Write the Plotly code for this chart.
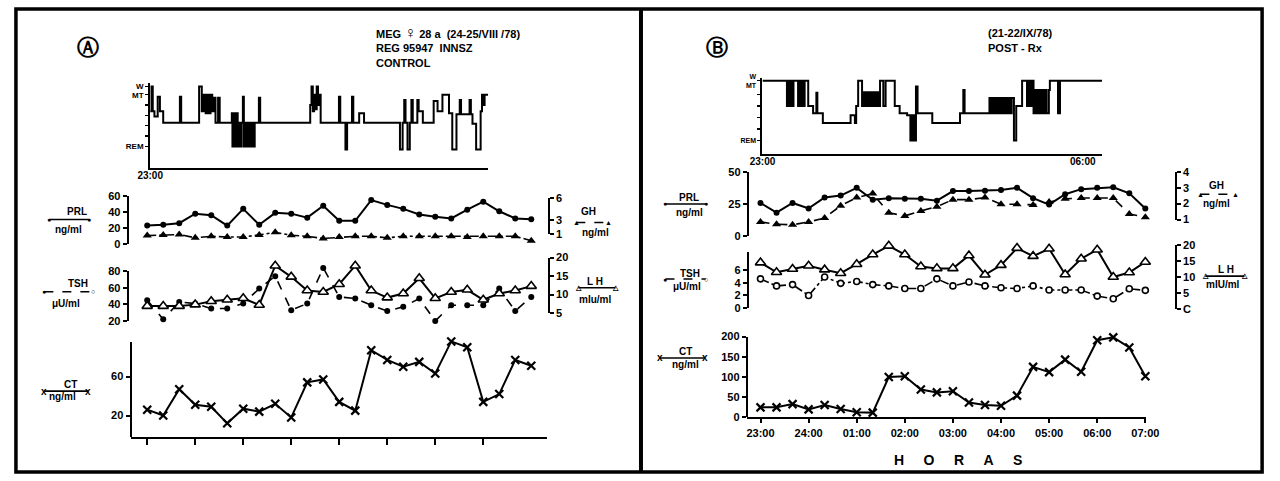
import plotly.graph_objects as go

W, H = 1280, 481
FONT = "Liberation Sans, Arial, Helvetica, sans-serif"

# ---------------- data ----------------
sample_min = [0, 20, 40, 60, 80, 100, 120, 140, 160, 180, 200, 220, 240,
              260, 280, 300, 320, 340, 360, 380, 400, 420, 440, 460, 480]
hour_ticks = [0, 1, 2, 3, 4, 5, 6, 7, 8]
hour_labels = ["23:00", "24:00", "01:00", "02:00", "03:00", "04:00",
               "05:00", "06:00", "07:00"]

# Panel A  (control)
prl_a = [23, 24, 26, 38, 36, 23, 44, 24, 39, 38, 33, 48, 29, 29, 55, 49, 44,
         37, 34, 32, 43, 53, 41, 32, 31]
gh_a = [0.8, 0.9, 0.95, 0.5, 0.7, 0.6, 0.6, 0.9, 1.25, 0.85, 0.7, 0.4, 0.6,
        0.7, 0.7, 0.5, 0.7, 0.7, 0.7, 0.7, 0.6, 0.7, 0.7, 0.7, 0.1]
tsh_a = [45, 22, 43, 41, 35, 35, 41, 59, 74, 33, 41, 84, 49, 47, 39, 32, 37,
         47, 20, 39, 39, 39, 59, 32, 49]
lh_a = [6.9, 6.9, 6.9, 7.3, 8.2, 8.6, 9.0, 7.2, 17.8, 14.8, 11.1, 10.7, 12.8,
        17.8, 11.1, 9.2, 10.3, 14.4, 9.0, 10.7, 11.3, 8.6, 10.3, 11.1, 12.3]
ct_a = [26, 20, 47, 31, 29, 12, 27, 24, 32, 18, 54, 57, 34, 25, 87, 77, 70,
        75, 63, 96, 90, 34, 42, 77, 71]

# Panel B  (post-Rx)
prl_b = [25.75, 18.25, 25.75, 21.5, 30, 31.5, 37.5, 28.25, 29.5, 29, 29, 27.5,
         35, 35, 35.25, 35.75, 37.5, 29.5, 24.5, 32.5, 36.5, 37.5, 38, 33.25, 21.5]
gh_b = [0.85, 0.71, 0.67, 0.85, 1.1, 1.87, 2.38, 2.63, 1.42, 1.23, 1.54, 1.81,
        2.25, 2.25, 2.38, 1.96, 1.96, 1.92, 2.1, 2.3, 2.35, 2.35, 2.35, 1.35, 1.15]
tsh_b = [4.6, 3.5, 3.7, 2.0, 4.9, 3.9, 4.2, 3.7, 3.5, 3.1, 3.1, 4.6, 3.5, 4.1,
         3.5, 3.2, 3.1, 3.5, 2.85, 2.85, 2.85, 1.9, 1.5, 3.05, 2.8]
lh_b = [14.5, 11.5, 12.5, 13.5, 12.3, 11.2, 14.0, 17.0, 19.7, 17.0, 13.3, 12.7,
        12.7, 16.7, 10.7, 13.7, 19.0, 16.5, 18.8, 10.8, 15.7, 18.5, 10.0, 11.4, 14.7]
ct_b = [25, 25, 33, 20, 31, 21, 13, 12, 100, 102, 69, 62, 65, 37, 31, 29, 54,
        125, 112, 143, 113, 191, 198, 173, 102]

# Hypnograms: minutes after 23:00 and stage level (0 = REM ... 5 = MT, above = W)
hyp_a_min = [0, 1.7, 3.4, 5.6, 9.9, 12.8, 17.1, 39.0, 40.7, 64.2, 67.7, 70.2,
             72.8, 75.4, 77.1, 79.2, 81.4, 83.5, 85.7, 89.1, 91.2, 107.1, 107.9,
             109.6, 111.4, 113.1, 114.8, 116.5, 118.2, 119.9, 121.6, 122.9,
             125.1, 126.8, 128.5, 130.6, 132.8, 134.5, 137.1, 142.6, 144.3,
             209.9, 211.6, 213.3, 215.0, 216.7, 218.4, 220.1, 221.9, 223.6,
             247.6, 249.3, 256.1, 258.3, 264.7, 266.4, 274.1, 280.5, 327.6,
             331.1, 333.2, 334.9, 337.5, 340.5, 342.6, 344.4, 350.4, 352.1,
             357.6, 371.8, 376.9, 383.3, 391.9, 396.2, 401.7, 406.0, 407.7,
             418.9, 420.6, 422.7, 427.5, 433.4, 435.2, 436.9, 438.6, 443.3]
hyp_a_stage = [3.4, 5.8, 3.4, 2.9, 4.8, 3.4, 2.3, 4.8, 2.3, 5.8, 3.4, 5.0, 3.2,
               5.0, 3.2, 5.0, 3.4, 4.7, 2.3, 4.7, 2.3, 3.2, 0, 3.2, 0, 3.2, 0,
               2.3, 0, 2.3, 4.8, 0, 2.3, 0, 2.3, 0, 2.3, 0, 2.3, 4.7, 2.3, 4.0,
               5.8, 3.4, 5.0, 3.6, 5.8, 4.0, 5.0, 2.3, 4.8, 2.3, -0.3, 2.3, 4.8,
               2.3, 3.2, 2.3, -0.3, 2.3, 4.5, 2.3, -0.3, 2.3, 4.5, 2.3, 4.5, 3.4,
               2.3, 4.4, 3.4, 5.0, 3.2, -0.3, 3.1, 4.5, 3.1, 4.5, 3.1, 2.2, -0.3,
               3.4, 5.0, 4.0, 5.0, 5.0]
hyp_b_min = [0, 32.1, 33.8, 35.5, 37.3, 39.0, 40.7, 46.7, 48.4, 50.1, 51.8, 53.5,
             55.3, 60.0, 66.4, 70.7, 72.0, 79.2, 115.6, 121.2, 122.9, 125.5,
             130.6, 132.8, 134.9, 137.0, 139.2, 141.3, 143.4, 145.6, 147.8,
             150.3, 152.0, 154.2, 158.5, 161.5, 173.5, 179.9, 189.7, 194.0,
             196.6, 199.2, 201.3, 203.4, 222.7, 259.1, 263.4, 265.1, 297.7,
             299.8, 301.9, 304.1, 306.2, 308.8, 311.4, 313.9, 316.5, 319.1,
             321.6, 324.2, 326.8, 329.8, 332.8, 340.5, 346.9, 349.1, 351.2,
             353.4, 355.5, 357.7, 359.8, 361.9, 364.1, 366.2, 368.3, 370.5,
             372.6, 375.6, 376.9, 387.6, 390.2, 445.4]
hyp_b_stage = [5.2, 3.0, 5.2, 3.0, 5.2, 3.0, 5.2, 3.0, 5.2, 3.0, 5.2, 3.0, 5.2,
               3.0, 2.37, 4.15, 2.37, 1.53, 2.2, 1.53, 3.0, 5.2, 3.0, 4.2, 3.0,
               4.2, 3.0, 4.2, 3.0, 4.2, 3.0, 4.2, 3.0, 5.2, 3.0, 5.2, 3.0, 2.37,
               2.2, 0, 2.2, 0, 4.7, 2.37, 1.53, 2.37, 4.4, 2.37, 3.7, 2.37, 3.7,
               2.37, 3.7, 2.37, 3.7, 2.37, 3.7, 2.37, 3.7, 2.37, 3.7, 0, 3.0,
               5.2, 3.0, 5.2, 3.0, 5.2, 2.37, 4.4, 2.37, 4.4, 2.37, 4.4, 2.37,
               4.4, 2.37, 4.4, 5.2, 2.37, 5.2, 5.2]
stage_ticks_a = [0, 1, 2, 3, 4, 5, 5.8]
stage_text_a = ["REM", "", "", "", "", "MT", "W"]
stage_ticks_b = [0, 1, 2, 3, 4, 5.2]
stage_text_b = ["REM", "", "", "", "", "W<br>MT"]

hours = [m / 60 for m in sample_min]

# ---------------- figure helpers ----------------
layout = dict(width=W, height=H, margin=dict(l=0, r=0, t=0, b=0),
              paper_bgcolor="white", plot_bgcolor="rgba(0,0,0,0)",
              showlegend=False,
              font=dict(family=FONT, size=10, color="black", weight="bold"))
traces, shapes, annotations = [], [], []
counter = {"x": 0, "y": 0}


def key_of(name):
    return name[0] + "axis" + name[1:]


def add_axis(kind, cfg):
    counter[kind] += 1
    n = counter[kind]
    name = kind + ("" if n == 1 else str(n))
    layout[key_of(name)] = cfg
    return name


def base_axis(**kw):
    d = dict(showgrid=False, zeroline=False, showline=True, linecolor="black",
             linewidth=2, ticks="outside", ticklen=4, tickwidth=2,
             tickcolor="black", fixedrange=True,
             tickfont=dict(family=FONT, size=11, color="black", weight="bold"))
    d.update(kw)
    return d


def px_x(x):
    return x / W


def px_y(y):
    return 1 - y / H


PPM = 46.7 / 60  # hypnogram px per minute


def hypnogram(x0, x1, y_top, y_bottom, y_rem, y_mt, mins, stages,
              tick_mins, tick_text, stick, stext):
    ppu = (y_rem - y_mt) / 5
    xid = add_axis("x", base_axis(domain=[px_x(x0), px_x(x1)],
                                  range=[0, (x1 - x0) / PPM], ticks="",
                                  tickvals=tick_mins, ticktext=tick_text,
                                  ticklabelstandoff=-3,
                                  tickfont=dict(family=FONT, size=10, color="black", weight="bold")))
    yid = add_axis("y", base_axis(domain=[px_y(y_bottom), px_y(y_top)],
                                  range=[-(y_bottom - y_rem) / ppu, 5 + (y_mt - y_top) / ppu],
                                  tickvals=stick, ticktext=stext,
                                  ticklen=3, tickwidth=1.5,
                                  tickfont=dict(family=FONT, size=8, color="black", weight="bold")))
    layout[key_of(xid)]["anchor"] = yid
    layout[key_of(yid)]["anchor"] = xid
    traces.append(go.Scatter(x=mins, y=stages, xaxis=xid, yaxis=yid, mode="lines",
                             line=dict(color="black", width=2, shape="hv"),
                             hoverinfo="skip"))


def series(xid, yvals, top, bottom, vtop, vbot, xpos, side, tickvals, ticktext,
           line, marker):
    disp = add_axis("y", base_axis(domain=[px_y(bottom), px_y(top)],
                                   range=[vbot, vtop], anchor="free",
                                   position=px_x(xpos), side=side,
                                   tickvals=tickvals, ticktext=ticktext))
    traces.append(go.Scatter(x=[], y=[], xaxis=xid, yaxis=disp, hoverinfo="skip"))
    ppu = (bottom - top) / (vtop - vbot)
    ext = 22
    data = add_axis("y", dict(domain=[px_y(bottom + ext), px_y(top - ext)],
                              range=[vbot - ext / ppu, vtop + ext / ppu],
                              visible=False, anchor=xid, fixedrange=True))
    traces.append(go.Scatter(x=hours, y=yvals, xaxis=xid, yaxis=data,
                             mode="lines+markers", line=line, marker=marker,
                             cliponaxis=False, hoverinfo="skip"))
    return disp


def txt(x, y, text, size=10, xanchor="center"):
    annotations.append(dict(x=px_x(x), y=px_y(y), xref="paper", yref="paper",
                            text=text, showarrow=False, xanchor=xanchor,
                            yanchor="middle",
                            font=dict(family=FONT, size=size, color="black",
                                      weight="bold")))


def key(label, lx, ly, unit, ux, uy, x0, x1, yl, dash, lsym, rsym, ssize=8):
    shapes.append(dict(type="line", xref="paper", yref="paper", x0=px_x(x0),
                       x1=px_x(x1), y0=px_y(yl), y1=px_y(yl),
                       line=dict(color="black", width=1.6, dash=dash)))
    txt(lx, ly, label, 10)
    txt(ux, uy, unit, 10)
    txt(x0, yl, lsym, ssize)
    txt(x1, yl, rsym, ssize)


# marker / line styles
L_SOLID = dict(color="black", width=2)
M_DOT = dict(symbol="circle", size=6, color="black")
M_TRI = dict(symbol="triangle-up", size=8, color="black")
M_TRI_OPEN = dict(symbol="triangle-up", size=9, color="white",
                  line=dict(color="black", width=1.6))
M_CIRC_OPEN = dict(symbol="circle", size=6, color="white",
                   line=dict(color="black", width=1.6))
M_X = dict(symbol="x-thin", size=8, color="black",
           line=dict(color="black", width=2.2))

# ---------------- hypnograms ----------------
hypnogram(140, 485, 79, 166, 144, 91, hyp_a_min, hyp_a_stage,
          [0], ["23:00"], stage_ticks_a, stage_text_a)
hypnogram(765, 1112, 74, 152, 138, 79, hyp_b_min, hyp_b_stage,
          [0, 420], ["23:00", "06:00"], stage_ticks_b, stage_text_b)
layout["yaxis2"]["tickfont"]["size"] = 7

# ---------------- hormone panels ----------------
A0, APH = 137, 49.0   # px of 23:00 and px per hour, panel A
B0, BPH = 763, 49.1
xa = add_axis("x", base_axis(domain=[px_x(120), px_x(545)],
                             range=[(120 - A0) / APH, (545 - A0) / APH],
                             tickvals=hour_ticks[:8], showticklabels=False,
                             ticklen=6))
xb = add_axis("x", base_axis(domain=[px_x(749), px_x(1157)],
                             range=[(749 - B0) / BPH, (1157 - B0) / BPH],
                             tickvals=hour_ticks, ticktext=hour_labels,
                             ticklen=4))

# Panel A
series(xa, prl_a, 195, 244, 60, 0, 117, "left", [0, 20, 40, 60], None,
       L_SOLID, M_DOT)
series(xa, gh_a, 197, 234, 6, 1, 547, "right", [1, 3, 6], None,
       dict(color="black", width=1.6, dash="dashdot"), M_TRI)
series(xa, tsh_a, 272, 323, 80, 20, 117, "left", [20, 40, 60, 80], None,
       dict(color="black", width=1.6, dash="dash"), M_DOT)
series(xa, lh_a, 258, 315, 20, 5, 547, "right", [5, 10, 15, 20], None,
       L_SOLID, M_TRI_OPEN)
cta = series(xa, ct_a, 345, 442, 95, -2, 120, "left", [20, 60], None,
             L_SOLID, M_X)
layout[key_of(xa)]["anchor"] = cta

# Panel B
series(xb, prl_b, 170, 236, 50, 0, 750, "left", [0, 25, 50], None,
       L_SOLID, M_DOT)
series(xb, gh_b, 170, 219, 4, 1, 1187, "right", [1, 2, 3, 4], None,
       dict(color="black", width=1.6, dash="dash"), M_TRI)
series(xb, tsh_b, 252, 310, 8.85, 0, 750, "left", [0, 2, 4, 6], None,
       dict(color="black", width=1.6, dash="dashdot"), M_CIRC_OPEN)
series(xb, lh_b, 245, 311, 20, 0, 1187, "right", [0, 5, 10, 15, 20],
       ["C", "5", "10", "15", "20"], L_SOLID, M_TRI_OPEN)
ctb = series(xb, ct_b, 339, 422, 200, 0, 749, "left", [0, 50, 100, 150, 200],
             None, L_SOLID, M_X)
layout[key_of(xb)]["anchor"] = ctb

# ---------------- legend keys ----------------
key("PRL", 65, 211, "ng/ml", 57, 229, 37, 78, 219, "solid", "●", "●", 7)
key("TSH", 66, 285, "μU/ml", 54, 305, 32, 82, 293, "dash", "●", "○", 7)
key("CT", 59, 388, "ng/ml", 51, 401, 32, 77, 395, "solid", "x", "x", 10)
key("GH", 587, 211, "ng/ml", 595, 232, 575, 608, 222, "dash", "▲", "▲", 7)
key("L H", 594, 283, "mIu/ml", 594, 301, 577, 615, 289, "solid", "△", "△", 7)

key("PRL", 690, 196, "ng/ml", 691, 212, 666, 707, 203, "solid", "●", "●", 7)
key("TSH", 691, 274, "μU/ml", 688, 288, 666, 707, 280, "dash", "●", "○", 7)
key("CT", 686, 354, "ng/ml", 686, 368, 660, 706, 361, "solid", "x", "x", 10)
key("GH", 1228, 184, "ng/ml", 1228, 203, 1212, 1248, 193, "dash", "▲", "▲", 7)
key("L H", 1238, 270, "mIU/ml", 1235, 286, 1217, 1257, 277, "solid", "△", "△", 7)

# ---------------- titles ----------------
txt(77, 43, "Ⓐ", 22)
txt(719, 43, "Ⓑ", 22)
txt(368, 27, "MEG <span style='font-size:16px'>♀</span> 28 a  (24-25/VIII /78)", 11, "left")
txt(368, 43, "REG 95947  INNSZ", 11, "left")
txt(368, 58, "CONTROL", 11, "left")
txt(993, 28, "(21-22/IX/78)", 11, "left")
txt(993, 43, "POST - Rx", 11, "left")
sp = "\u00a0" * 5
txt(965, 466, sp.join(list("HORAS")), 14)

# ---------------- frame ----------------
shapes.append(dict(type="rect", xref="paper", yref="paper", x0=px_x(3),
                   x1=px_x(1275), y0=px_y(478), y1=px_y(3),
                   line=dict(color="black", width=3.5)))
shapes.append(dict(type="line", xref="paper", yref="paper", x0=px_x(641),
                   x1=px_x(641), y0=px_y(478), y1=px_y(3),
                   line=dict(color="black", width=4)))

layout["shapes"] = shapes
layout["annotations"] = annotations

fig = go.Figure(data=traces, layout=layout)
fig.write_html(
    "out.html",
    config={"displayModeBar": False, "staticPlot": True},
    post_script="document.body.style.margin='0px';"
                "document.documentElement.style.margin='0px';"
                "document.body.style.overflow='hidden';",
)
